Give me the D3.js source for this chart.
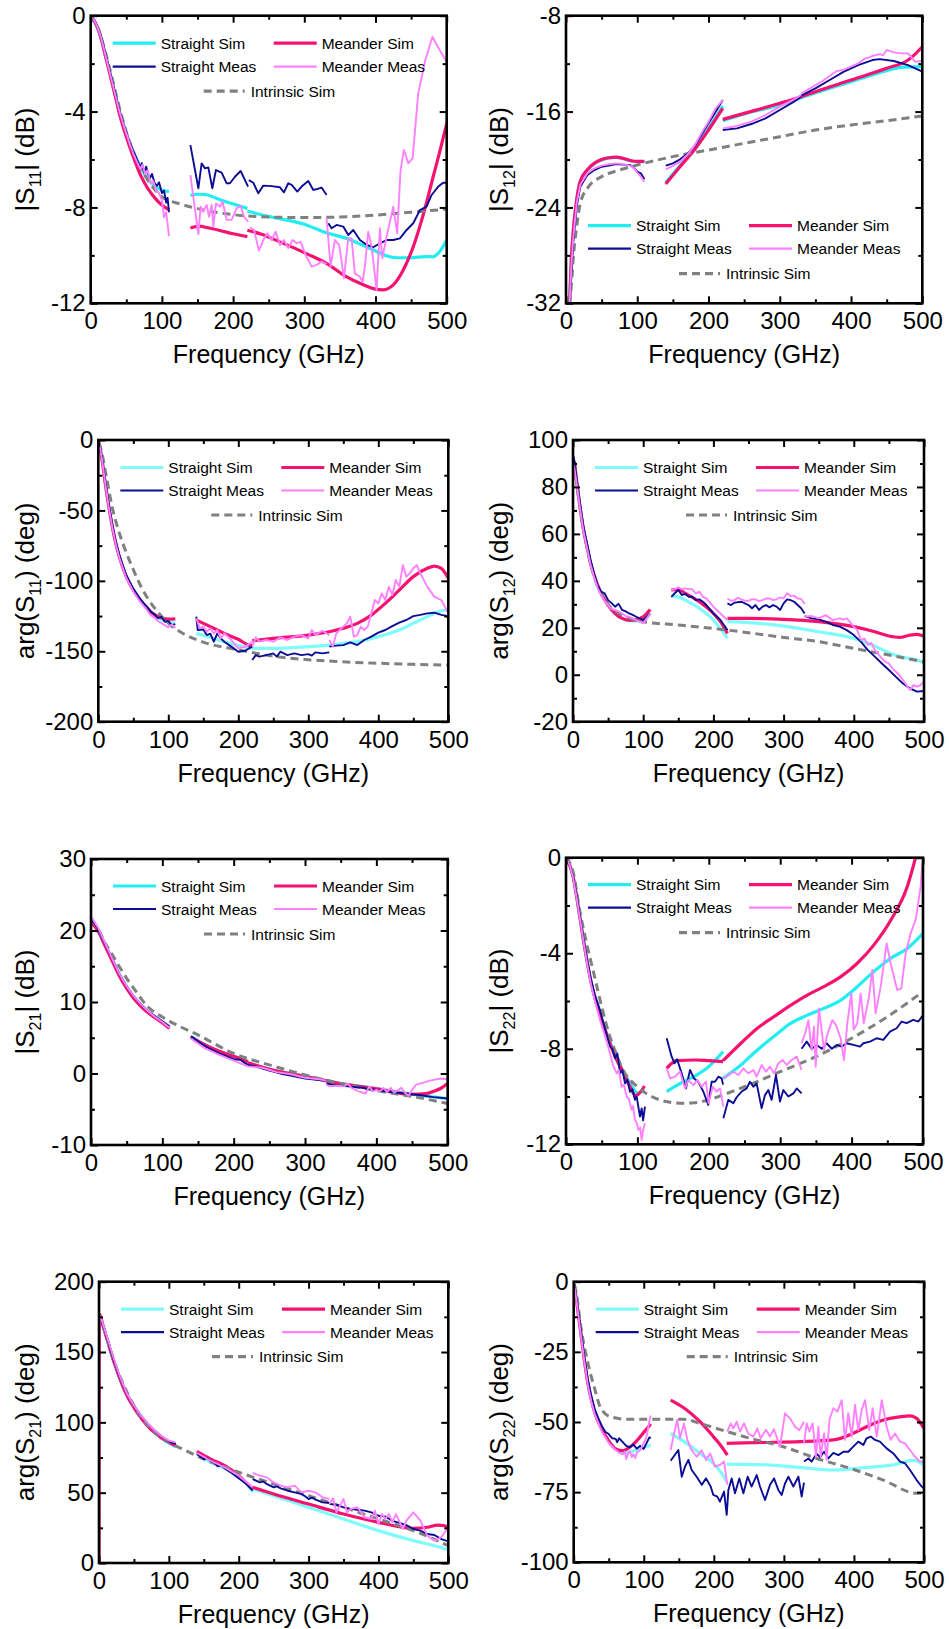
<!DOCTYPE html>
<html>
<head>
<meta charset="utf-8">
<script src="https://cdn.jsdelivr.net/npm/d3@7"></script>
<style>
  html, body { margin: 0; padding: 0; background: #fff; }
  svg { display: block; font-family: "Liberation Sans", Arial, Helvetica, sans-serif; }
</style>
</head>
<body>
<svg id="chart" width="949" height="1629"></svg>
<script>
// ---------- shared axis values ----------
const freqTicks = [0, 100, 200, 300, 400, 500];
const s11MagTicks = [0, -4, -8, -12];
const s12MagTicks = [-8, -16, -24, -32];
const s11PhaseTicks = [0, -50, -100, -150, -200];
const s12PhaseTicks = [100, 80, 60, 40, 20, 0, -20];
const s21MagTicks = [30, 20, 10, 0, -10];
const s22MagTicks = [0, -4, -8, -12];
const s21PhaseTicks = [200, 150, 100, 50, 0];
const s22PhaseTicks = [0, -25, -50, -75, -100];

const legendLabels = ["Straight Sim", "Meander Sim", "Straight Meas", "Meander Meas", "Intrinsic Sim"];

// ---------- |S11| (dB) ----------  [frequency GHz, value], null = band gap
const s11MagStraightSim = [[0,0],[5,-0.22],[10,-0.53],[15,-0.98],[20,-1.57],[25,-2.15],[30,-2.75],[35,-3.38],[40,-3.98],[45,-4.5],[50,-4.95],[60,-5.7],[70,-6.3],[80,-6.8],[90,-7.1],[100,-7.28],[110,-7.33], null,
  [140,-7.5],[150,-7.45],[160,-7.46],[180,-7.66],[200,-7.86],[220,-8.04], null,
  [220,-8.15],[250,-8.38],[300,-8.7],[330,-9.05],[360,-9.3],[380,-9.55],[400,-9.82],[415,-10.02],[430,-10.1],[450,-10.1],[470,-10.05],[480,-10.06],[490,-9.85],[500,-9.36]];
const s11MagMeanderSim = [[0,0],[5,-0.22],[10,-0.53],[15,-1.0],[20,-1.6],[25,-2.2],[30,-2.8],[35,-3.42],[40,-4.05],[45,-4.58],[50,-5.05],[60,-5.9],[70,-6.65],[80,-7.2],[90,-7.6],[100,-7.9],[110,-8.1], null,
  [140,-8.86],[152,-8.78],[165,-8.85],[180,-8.95],[200,-9.1],[220,-9.22], null,
  [220,-8.95],[240,-9.12],[265,-9.43],[290,-9.75],[312,-10.05],[331,-10.33],[359,-10.89],[383,-11.23],[400,-11.41],[410,-11.44],[425,-11.23],[439,-10.61],[453,-9.64],[467,-8.31],[481,-6.72],[490,-5.7],[500,-4.5]];
const s11MagStraightMeas = [[0,0],[5,-0.2],[10,-0.5],[15,-0.9],[20,-1.5],[25,-2.1],[30,-2.7],[35,-3.3],[40,-3.9],[45,-4.4],[50,-4.85],[55,-5.3],[60,-5.65],[65,-6.0],[70,-6.35],[72,-6.15],[75,-6.55],[78,-6.3],[80,-6.55],[83,-6.8],[86,-6.6],[90,-7.0],[93,-7.1],[96,-6.95],[100,-7.4],[103,-7.3],[106,-7.8],[108,-7.6],[110,-8.2], null,
  [140,-5.4],[151.2,-7.2],[155.8,-6.16],[160.5,-6.37],[165.2,-6.33],[170.8,-7.2],[175.9,-6.44],[183.9,-6.55],[190.9,-6.99],[195.6,-6.99],[202.6,-6.72],[210.6,-6.48],[216.7,-6.86],[221,-7.13], null,
  [222,-6.86],[228.4,-6.97],[235.4,-7.41],[242.4,-7.09],[254.1,-7.11],[265.8,-7.16],[271.4,-7.37],[277.5,-6.99],[282.2,-7.06],[290.2,-7.34],[296.2,-7.13],[305.6,-6.9],[312.6,-7.27],[318.7,-7.23],[324.3,-7.17],[331.3,-7.48], null,
  [333.7,-8.66],[338.3,-8.87],[345.4,-8.73],[354.7,-8.8],[361.7,-9.15],[368.8,-8.94],[378.1,-9.36],[387.5,-9.56],[396.8,-9.66],[406.2,-9.5],[415.6,-9.36],[424.9,-9.36],[434.3,-9.29],[443.7,-8.94],[453,-8.66],[462.4,-8.11],[471.7,-7.97],[478.8,-7.48],[488.1,-7.13],[495.1,-6.97],[500,-6.97]];
const s11MagMeanderMeas = [[0,0],[5,-0.2],[10,-0.5],[15,-0.95],[20,-1.55],[25,-2.15],[30,-2.75],[35,-3.35],[40,-3.95],[45,-4.45],[50,-4.9],[55,-5.35],[60,-5.75],[65,-6.1],[70,-6.4],[73,-6.2],[76,-6.6],[80,-6.45],[84,-7.0],[88,-6.9],[92,-7.3],[96,-7.4],[100,-7.7],[103,-8.4],[106,-8.2],[110,-9.2], null,
  [140,-6.65],[151.2,-9.11],[154.4,-7.97],[157.7,-8.18],[162.9,-7.9],[166.1,-8.39],[169.9,-7.9],[172.2,-8.8],[175.9,-7.83],[181.5,-7.97],[185.3,-7.76],[190.9,-8.52],[197.9,-8.52],[205,-8.04],[210.6,-7.94],[215.3,-8.39],[221.3,-8.59], null,
  [223.7,-8.83],[229.3,-8.94],[236.3,-9.8],[242.4,-9.36],[248,-9.08],[254.1,-9.36],[259.7,-9.01],[265.8,-9.57],[271.4,-9.36],[277.5,-9.7],[283.6,-9.36],[289.2,-9.5],[294.8,-9.43],[301.8,-9.98],[310.3,-10.47],[317.3,-10.4],[324.3,-10.26],[331.3,-10.36], null,
  [331.3,-8.45],[336.9,-10.47],[343,-9.36],[349.1,-9.57],[355.7,-10.96],[361.7,-9.29],[366.4,-9.29],[371,-10.75],[378.1,-10.89],[381.8,-11.1],[385.1,-10.47],[389.8,-9.01],[394.5,-9.64],[401.5,-11.44],[406.2,-8.87],[409.5,-10.12],[415.6,-9.22],[424.9,-7.97],[430.5,-9.08],[435.2,-6.44],[439.9,-5.6],[446,-6.16],[452.1,-5.95],[460,-3.24],[470,-1.85],[480,-0.88],[490,-1.43],[500,-1.92]];
const s11MagIntrinsic = [[0,0],[10,-0.5],[20,-1.45],[30,-2.6],[40,-3.8],[50,-4.85],[60,-5.7],[70,-6.35],[80,-6.85],[90,-7.25],[100,-7.55],[125,-7.85],[150,-8.05],[200,-8.3],[250,-8.4],[300,-8.42],[350,-8.4],[400,-8.32],[450,-8.2],[500,-8.07]];

// ---------- |S12| (dB) ----------
const s12MagStraightSim = [[5,-32],[7.5,-28.5],[10,-26.16],[15,-23.38],[20,-21.85],[30,-20.88],[40,-20.32],[50,-20.04],[60,-19.87],[70,-19.82],[80,-19.93],[90,-20.1],[100,-20.18],[110,-20.18], null,
  [140,-21.93],[160,-20.51],[180,-19.07],[200,-17.4],[220,-15.54], null,
  [220,-16.76],[250,-16.2],[300,-15.45],[330,-14.84],[400,-13.51],[450,-12.59],[470,-12.31],[500,-12.25]];
const s12MagMeanderSim = [[5,-32],[7.5,-28.3],[10,-26.1],[15,-23.35],[20,-21.82],[30,-20.85],[40,-20.3],[50,-20.0],[60,-19.85],[70,-19.8],[80,-19.9],[90,-20.08],[100,-20.16],[110,-20.16], null,
  [140,-22.04],[160,-20.6],[180,-19.21],[200,-17.54],[220,-15.73], null,
  [220,-16.65],[250,-16.15],[300,-15.31],[330,-14.76],[350,-14.34],[400,-13.37],[450,-12.39],[480,-11.7],[490,-11.2],[500,-10.59]];
const s12MagStraightMeas = [[5,-32],[7.5,-29.5],[10,-27.0],[15,-23.94],[20,-22.27],[30,-21.29],[40,-20.88],[50,-20.6],[60,-20.51],[70,-20.38],[80,-20.43],[90,-20.46],[95,-20.68],[100,-21.01],[105,-21.15],[108,-21.43],[110,-21.65], null,
  [140,-20.51],[150,-20.32],[160,-19.99],[170,-19.54],[180,-18.93],[190,-17.96],[200,-16.98],[210,-16.01],[220,-15.04], null,
  [220,-17.54],[240,-17.4],[260,-17.04],[280,-16.57],[300,-15.87],[320,-15.17],[330,-14.76], null,
  [330,-14.67],[350,-14.06],[370,-13.37],[390,-12.67],[410,-12.12],[430,-11.7],[440,-11.62],[460,-11.78],[480,-12.12],[500,-12.67]];
const s12MagMeanderMeas = [[5,-32],[7.5,-29],[10,-26.72],[15,-23.66],[20,-22.13],[30,-21.15],[40,-20.74],[50,-20.51],[60,-20.4],[70,-20.32],[80,-20.38],[90,-20.51],[95,-20.7],[100,-21.1],[105,-21.43],[110,-21.85], null,
  [140,-20.82],[150,-20.54],[160,-20.18],[170,-19.62],[180,-18.87],[190,-17.82],[200,-16.84],[210,-15.73],[220,-15.04], null,
  [220,-17.4],[240,-17.2],[260,-16.84],[280,-16.29],[300,-15.59],[320,-14.98],[330,-14.62], null,
  [330,-14.5],[340,-14.15],[360,-13.45],[380,-12.62],[390,-12.5],[400,-12.25],[410,-11.98],[420,-11.56],[425,-11.5],[430,-11.36],[440,-11.2],[445,-11.3],[450,-10.86],[460,-11.06],[470,-11.14],[480,-11.14],[490,-11.84],[500,-11.78]];
const s12MagIntrinsic = [[5,-32],[7.5,-30.5],[10,-28.38],[15,-25.6],[20,-23.66],[30,-22.41],[50,-21.43],[75,-20.88],[100,-20.46],[150,-19.76],[200,-19.21],[250,-18.65],[300,-18.1],[350,-17.54],[400,-17.12],[450,-16.76],[500,-16.37]];

// ---------- arg(S11) (deg) ----------
const s11PhaseStraightSim = [[1,-2],[5,-13],[10,-30.8],[15,-47.3],[20,-61.5],[25,-73.4],[30,-82.8],[40,-97],[50,-106.5],[60,-113.6],[70,-119.5],[80,-124.3],[90,-127.5],[100,-129.3],[110,-130], null,
  [140,-137.3],[160,-140.1],[180,-143.2],[200,-146],[220,-147.9], null,
  [220,-147.9],[250,-148],[300,-146.7],[330,-145.6],[350,-144.4],[370,-143.2],[400,-139.6],[430,-134.9],[450,-130.2],[470,-125.4],[490,-121.2],[500,-120.7]];
const s11PhaseMeanderSim = [[1,-2],[5,-13],[10,-30.8],[15,-47.3],[20,-61.5],[25,-73.4],[30,-82.8],[40,-97],[50,-106.5],[60,-113.6],[70,-119.5],[80,-124],[90,-126.2],[100,-127.2],[110,-127], null,
  [140,-127.8],[160,-132.5],[180,-137.3],[200,-141.5],[215,-145.6],[220,-146], null,
  [220,-142.5],[250,-140.8],[300,-138.5],[330,-136.1],[350,-133.7],[370,-130.2],[390,-124.3],[410,-116],[430,-106.5],[450,-97],[470,-91.1],[480,-89.5],[490,-91.1],[500,-98.2]];
const s11PhaseStraightMeas = [[1,-2],[5,-12],[10,-29.5],[15,-46],[20,-60],[25,-72],[30,-81.5],[40,-96],[50,-105.5],[60,-113],[65,-116],[70,-118.5],[75,-122],[80,-123.5],[85,-126.5],[90,-125.5],[95,-129],[100,-128.5],[105,-131.5],[110,-130.7], null,
  [140,-125.4],[142,-134.9],[150,-134.5],[155,-138.5],[160,-137.5],[165,-143.2],[170,-137.3],[175,-140.8],[180,-143.2],[190,-146.7],[200,-150.3],[210,-149.6],[215,-148],[220,-146.7], null,
  [220,-156.2],[225,-152.7],[230,-153.8],[240,-152.7],[250,-151.5],[255,-153.8],[260,-150.3],[270,-152.7],[280,-151.5],[290,-152.7],[300,-152],[305,-153.1],[310,-150.8],[320,-151.5],[330,-150.8], null,
  [330,-146.7],[340,-146],[350,-145.6],[360,-143.7],[370,-145.6],[380,-142],[390,-139.6],[400,-136.8],[410,-134.9],[420,-132.1],[430,-129.7],[440,-127.8],[450,-125],[460,-124.2],[470,-123.1],[480,-122.6],[490,-124.2],[500,-125]];
const s11PhaseMeanderMeas = [[1,-2],[5,-13],[10,-31],[15,-48],[20,-62],[25,-74],[30,-83.5],[40,-98],[50,-107.5],[60,-115],[65,-118],[70,-121],[75,-124.5],[80,-126],[85,-128.5],[90,-130],[95,-131.5],[100,-133],[105,-131],[110,-133.5], null,
  [140,-126.6],[145,-133.7],[150,-132.5],[155,-136.1],[160,-133.7],[165,-137.3],[170,-134.9],[175,-140.8],[180,-137.3],[190,-142],[200,-147.9],[210,-146.7],[220,-143.2], null,
  [220,-146.7],[225,-140.1],[230,-143.2],[240,-142],[250,-143.2],[260,-140.1],[270,-142],[280,-139.6],[290,-138.5],[300,-140.8],[305,-134.9],[310,-138.5],[320,-135.4],[330,-138.5], null,
  [330,-142],[335,-146.7],[340,-137.3],[350,-132.5],[355,-130.2],[360,-125.4],[365,-139.6],[370,-138.5],[375,-132.5],[380,-134.9],[385,-132.5],[390,-123],[395,-113.6],[400,-116],[405,-108.9],[410,-113.6],[415,-104.1],[420,-110],[425,-99.4],[430,-104.1],[435,-88.8],[440,-97],[445,-94.7],[450,-91.1],[455,-88.8],[460,-94.7],[470,-104.1],[480,-111.2],[490,-113.6],[500,-123]];
const s11PhaseIntrinsic = [[1,-2],[5,-9],[10,-22],[20,-48],[30,-66],[40,-80],[50,-92],[60,-103],[70,-112],[80,-119],[90,-125],[100,-130],[120,-137],[150,-143.5],[200,-149],[250,-153.5],[300,-156],[350,-157.5],[400,-158.5],[450,-159.3],[500,-159.8]];

// ---------- arg(S12) (deg) ----------
const s12PhaseStraightSim = [[2,91],[5,83],[10,71.6],[15,61.6],[20,54.5],[25,47.4],[30,42.5],[40,34.7],[50,29.7],[60,26.1],[70,24],[80,23],[90,22.8],[100,23],[110,26.1], null,
  [140,33.5],[150,33.2],[160,31.8],[180,28.3],[200,23.3],[210,19.7],[220,15.5], null,
  [220,22.6],[250,22.2],[300,20.7],[350,18.3],[400,15.5],[430,12.2],[450,9.4],[470,7.4],[490,6.3],[500,5.1]];
const s12PhaseMeanderSim = [[2,91],[5,83],[10,71.6],[15,61.6],[20,54.5],[25,47.4],[30,42.5],[40,34.7],[50,29.7],[60,26.1],[70,24],[80,23.2],[90,23.4],[100,24.7],[110,27.8], null,
  [140,36.1],[150,36.4],[160,34.7],[180,31.1],[200,26.1],[210,22.6],[220,17.6], null,
  [220,24],[250,24],[300,23.6],[350,22.6],[400,20.5],[430,18.3],[450,16.5],[465,15.9],[480,16.9],[490,17.2],[500,16.5]];
const s12PhaseStraightMeas = [[1,93],[5,84],[10,73],[15,63],[20,56],[25,49],[30,43.2],[35,38],[40,35.4],[45,34.7],[50,31.8],[55,30.5],[60,29],[65,30.2],[70,27.6],[75,27],[80,26.1],[85,25.5],[90,24.7],[95,24],[100,23.3],[105,24.7],[110,26.1], null,
  [140,33.2],[145,34.7],[150,36.1],[155,34],[160,34.4],[165,33.2],[170,33.2],[175,31.8],[180,32.1],[185,31.1],[190,29.7],[200,26.1],[210,23.3],[220,19], null,
  [220,30.4],[225,29.7],[230,30.7],[240,31.1],[250,29.7],[255,28.3],[260,29.7],[265,27.6],[270,29],[275,29.7],[280,28.7],[285,29.7],[290,29],[295,27.6],[300,30.4],[305,32.1],[310,31.8],[315,31.1],[320,29.7],[325,28.3],[330,26.1], null,
  [330,25],[340,24],[350,23.6],[360,22.6],[370,21.2],[380,20.5],[390,19],[400,16.9],[410,14.1],[420,10.5],[430,7.7],[440,4.8],[450,2],[460,-0.9],[470,-3.7],[480,-5.8],[490,-7.2],[500,-6.9]];
const s12PhaseMeanderMeas = [[1,90],[5,82],[10,71],[15,61],[20,54],[25,47],[30,41.7],[35,37],[40,33.9],[45,31.5],[50,29.7],[55,28],[60,27.6],[65,27],[70,26.1],[75,25],[80,24.7],[85,24],[90,23.3],[95,22.6],[100,21.9],[105,24],[110,26.1], null,
  [140,36.1],[145,36.5],[150,37.2],[155,36.5],[160,36.8],[165,36.5],[170,36.4],[175,34.7],[180,35.4],[185,33.2],[190,32.5],[200,29],[210,26.1],[220,23.3], null,
  [220,32.5],[225,31.5],[230,31.8],[235,32.8],[240,32.1],[245,31.5],[250,31.5],[255,32.2],[260,32.1],[265,31.4],[270,31.8],[275,32.5],[280,32.5],[285,31.8],[290,32.1],[295,33],[300,32.5],[305,34.7],[310,33.6],[315,33.6],[320,32.5],[325,32.3],[330,30.1], null,
  [330,24.7],[340,25],[350,24],[360,25.4],[370,23.3],[380,24],[385,23.5],[390,24],[400,20.5],[405,19],[410,14.8],[415,15.5],[420,12.8],[425,13.5],[430,10.5],[440,7],[445,5.5],[450,4.8],[455,2.7],[460,1.3],[465,-0.1],[475,-4.4],[480,-6.5],[485,-4.4],[490,-5.1],[495,-4.4],[500,-3]];
const s12PhaseIntrinsic = [[2,90],[5,82],[10,71],[20,54],[30,42],[50,30],[70,25.5],[100,22.6],[150,21.2],[200,19.7],[250,17.9],[300,15.9],[350,14.1],[400,11.2],[450,8.4],[500,5.5]];

// ---------- |S21| (dB) ----------
const s21MagStraightSim = [[0,21.2],[5,20.8],[10,20.1],[20,18],[30,15.9],[40,13.8],[50,12.1],[60,10.7],[70,9.6],[80,8.6],[90,7.9],[100,7.2],[110,6.4], null,
  [140,5.2],[160,4.0],[180,3.1],[200,2.4],[220,1.7], null,
  [220,1.5],[250,0.6],[300,-0.4],[350,-1.4],[400,-2.1],[450,-2.9],[500,-3.5]];
const s21MagMeanderSim = [[0,21],[5,20.6],[10,19.9],[20,17.8],[30,15.7],[40,13.6],[50,11.9],[60,10.5],[70,9.4],[80,8.5],[90,7.8],[100,7.1],[110,6.3], null,
  [140,5.1],[160,4.0],[180,3.1],[200,2.4],[220,1.6], null,
  [220,1.5],[250,0.6],[300,-0.4],[350,-1.4],[400,-2.15],[450,-2.9],[470,-2.8],[480,-2.5],[490,-2.1],[500,-1.4]];
const s21MagStraightMeas = [[0,21.6],[5,21],[10,20.2],[20,18.1],[30,16],[40,13.9],[50,12.2],[60,10.8],[70,9.7],[80,8.7],[90,8],[100,7.3],[110,6.6], null,
  [140,5.2],[160,3.8],[180,2.8],[200,2.0],[210,1.9],[215,1.5],[220,1.2], null,
  [220,1.2],[230,1.0],[250,0.4],[270,-0.1],[280,-0.3],[300,-0.7],[320,-0.9],[330,-1.0], null,
  [330,-1.4],[340,-1.6],[360,-1.8],[380,-2.0],[400,-2.3],[420,-2.6],[440,-2.8],[460,-3.0],[480,-3.3],[500,-3.5]];
const s21MagMeanderMeas = [[0,21.9],[5,21.2],[10,20.4],[20,18.2],[30,16],[40,13.9],[50,12.2],[60,10.8],[70,9.7],[80,8.7],[90,7.9],[100,7.2],[110,6.4], null,
  [140,4.9],[160,3.5],[180,2.6],[200,1.8],[220,1.0], null,
  [220,1.0],[240,0.8],[260,0.2],[280,-0.1],[300,-0.6],[320,-0.8],[330,-1.0], null,
  [330,-1.6],[335,-1.8],[345,-1.7],[355,-1.8],[360,-1.4],[365,-2.0],[375,-2.5],[385,-2.8],[390,-1.8],[395,-2.5],[400,-2.3],[405,-2.5],[410,-2.0],[415,-2.6],[420,-2.0],[425,-2.7],[435,-2.0],[440,-2.7],[445,-3.1],[450,-2.3],[455,-1.6],[465,-1.3],[475,-1.0],[490,-0.7],[500,-0.8]];
const s21MagIntrinsic = [[0,21.5],[10,20.2],[20,18.2],[30,16.6],[40,14.9],[50,13.3],[60,11.9],[80,9.3],[100,7.9],[120,6.8],[150,5.4],[200,2.8],[250,1.2],[300,-0.2],[350,-1.4],[400,-2.4],[450,-3.2],[500,-4.2]];

// ---------- |S22| (dB) ----------
const s22MagStraightSim = [[0,0],[5,-0.3],[10,-0.8],[15,-1.65],[20,-2.6],[25,-3.55],[30,-4.42],[35,-5.2],[40,-5.82],[50,-6.8],[60,-7.63],[70,-8.4],[80,-8.96],[90,-9.45],[100,-9.85],[110,-9.73], null,
  [141,-9.79],[160,-9.45],[180,-9.15],[200,-8.75],[210,-8.45],[220,-8.12], null,
  [220,-9.24],[245,-8.68],[268,-8.05],[291,-7.49],[315,-6.93],[338,-6.59],[361,-6.31],[385,-5.96],[408,-5.4],[431,-4.77],[455,-4.21],[478,-3.8],[500,-3.17]];
const s22MagMeanderSim = [[0,0],[5,-0.3],[10,-0.8],[15,-1.65],[20,-2.6],[25,-3.55],[30,-4.42],[35,-5.2],[40,-5.82],[50,-6.8],[60,-7.63],[70,-8.4],[80,-8.96],[90,-9.6],[97,-9.95],[100,-9.93],[110,-9.56], null,
  [141,-8.82],[155,-8.5],[182,-8.47],[200,-8.5],[220,-8.54], null,
  [220,-8.5],[245,-7.77],[268,-7.14],[291,-6.66],[315,-6.17],[338,-5.75],[361,-5.4],[385,-4.98],[408,-4.42],[431,-3.66],[455,-2.61],[478,-1.21],[490,0.05]];
const s22MagStraightMeas = [[0,0],[5,-0.3],[10,-0.8],[15,-1.6],[20,-2.55],[25,-3.5],[30,-4.35],[35,-5.1],[40,-5.7],[47.6,-6.38],[55,-7.2],[61.6,-7.91],[65,-8.0],[68.6,-8.4],[72,-8.2],[75.7,-9.03],[79,-8.9],[82.7,-9.45],[86,-9.3],[89.6,-9.8],[93,-9.7],[96.6,-10.14],[99,-10.0],[101.3,-10.42],[103.6,-10.84],[106,-10.5],[108,-11.0],[110.6,-10.42], null,
  [141,-7.56],[148,-8.33],[152,-8.61],[155.6,-8.44],[162,-9.03],[168,-9.66],[173.7,-8.89],[179.3,-9.24],[185.3,-9.38],[192.3,-9.79],[199.3,-10.35],[204,-9.38],[208.7,-9.38],[213.4,-9.17],[218,-9.24],[220,-9.5], null,
  [220.4,-10.91],[227.3,-10.14],[234.4,-10.28],[239,-10.03],[246,-9.79],[253,-9.66],[257.7,-9.38],[262.4,-9.59],[267,-9.45],[274,-10.49],[278.7,-9.94],[283.4,-9.73],[288,-10.14],[294.1,-9.1],[299.7,-10.21],[304.4,-9.73],[311.4,-10.0],[318.4,-9.87],[323.1,-9.66],[330,-9.87], null,
  [330,-8.0],[337.1,-7.7],[344,-8.0],[351.2,-7.84],[358.2,-8.0],[365.2,-7.77],[372.3,-8.0],[379.1,-7.84],[386.1,-7.91],[393.2,-7.77],[402.5,-7.84],[411.8,-7.91],[416.5,-7.77],[425.8,-7.7],[435.1,-7.56],[444.4,-7.63],[453.8,-7.28],[463.1,-7.14],[470.1,-6.86],[477,-6.93],[486.4,-6.79],[493.5,-6.86],[500,-6.59]];
const s22MagMeanderMeas = [[0,0],[5,-0.3],[10,-0.85],[15,-1.7],[20,-2.65],[25,-3.6],[30,-4.5],[35,-5.3],[40,-5.95],[47.6,-6.8],[55,-7.5],[61.6,-8.19],[66,-8.7],[71,-9.03],[74,-8.9],[78,-9.59],[81,-9.5],[85,-10.0],[88,-10.1],[92,-10.56],[94,-10.4],[96.6,-10.98],[99,-11.1],[101.3,-11.4],[104,-11.3],[105.9,-11.82],[108,-11.4],[110.6,-11.12], null,
  [141,-8.82],[145.7,-9.24],[152.6,-9.17],[159.7,-8.96],[166.7,-9.66],[171.4,-9.31],[178.3,-9.52],[183.9,-9.31],[190,-9.59],[196,-9.38],[199.8,-10.28],[205.4,-9.59],[211,-9.79],[215.7,-9.66],[220.4,-10.42], null,
  [220.4,-9.24],[227.3,-9.1],[234.4,-8.96],[241.4,-9.1],[248.4,-8.82],[255.4,-9.03],[262.4,-8.89],[267,-9.17],[274,-8.68],[280.1,-8.96],[285.7,-8.75],[291.3,-9.03],[297.4,-8.61],[303.5,-8.47],[309,-8.68],[316,-8.47],[323.1,-8.33],[330,-8.89], null,
  [330,-7.77],[335,-7.35],[339.5,-6.8],[344,-8.05],[347.3,-7.07],[349.7,-8.75],[354.3,-6.31],[361.3,-8.05],[366,-7.4],[373,-6.8],[378,-7.0],[384.7,-7.56],[389.4,-8.47],[394,-6.93],[399.6,-5.68],[403,-7.2],[408,-6.93],[412.7,-5.68],[417,-6.93],[424.4,-5.82],[429,-4.7],[433.7,-6.52],[440.7,-5.4],[449.1,-3.59],[454.7,-4.42],[460.3,-5.12],[464,-5.54],[469.7,-5.47],[475.7,-4.0],[482.7,-3.17],[489.7,-2.61],[496.7,-1.21],[499,-0.24]];
const s22MagIntrinsic = [[0,0],[10,-0.6],[20,-2.33],[30,-3.73],[40,-4.98],[50,-6.24],[60,-7.35],[70,-8.19],[80,-8.89],[100,-9.59],[120,-10.0],[140,-10.21],[160,-10.28],[180,-10.26],[200,-10.14],[220,-9.93],[250,-9.59],[300,-8.96],[350,-8.33],[400,-7.56],[450,-6.66],[500,-5.61]];

// ---------- arg(S21) (deg) ----------
const s21PhaseStraightSim = [[0,177],[5,169.9],[10,161.6],[20,145],[30,130.8],[40,119],[50,110.7],[60,103.6],[70,97.6],[80,92.5],[90,88.5],[100,85],[110,82.5], null,
  [140,78.2],[160,71.6],[180,67.3],[200,60.9],[210,57],[220,50.7], null,
  [220,52.6],[250,47.9],[300,39.6],[350,31.3],[400,23],[450,15.9],[480,12.3],[500,9.5]];
const s21PhaseMeanderSim = [[0,0],[0.8,177],[5,170],[10,161.6],[20,145],[30,130.8],[40,119],[50,110.5],[60,103.2],[70,97.2],[80,92.5],[90,88.8],[100,85.8],[110,83.2], null,
  [140,79.4],[160,73.9],[180,69.2],[200,62.1],[215,55],[220,52.6], null,
  [220,53.8],[250,49.1],[300,41.9],[350,34.8],[400,28.9],[430,25.8],[450,24.6],[470,25.4],[485,27],[495,26.5],[500,24.6]];
const s21PhaseStraightMeas = [[0,176],[5,170.5],[10,162.5],[20,146],[30,132],[40,120.5],[50,112],[60,105],[70,99],[80,94],[90,90],[100,86.5],[110,84.5], null,
  [140,77.5],[150,73.9],[155,74.5],[160,72.5],[165,71.5],[170,68.7],[175,69.5],[180,67.3],[190,64],[200,60.2],[210,56.5],[220,51.4], null,
  [220,59.7],[230,57.3],[235,58],[240,56.2],[250,53.8],[255,54.5],[260,53.1],[270,51.4],[280,50.2],[290,49],[295,47.5],[300,45.5],[305,46.5],[310,45],[320,43.1],[330,42.7], null,
  [330,41.9],[340,41.5],[350,39.6],[360,38.5],[370,37.9],[380,37.2],[390,36],[400,33.6],[410,33],[420,30],[430,28.5],[440,26.9],[450,24.2],[460,23],[470,20.6],[480,19.9],[490,17],[500,15.4]];
const s21PhaseMeanderMeas = [[0,0],[0.8,176],[5,171],[10,163],[20,147],[30,132.5],[40,120.5],[50,112],[60,105],[70,99],[80,94],[90,90],[100,87],[110,85.8], null,
  [140,78.2],[160,72.7],[180,68],[200,62.1],[210,58],[220,53.8], null,
  [220,64],[230,62.1],[240,60.9],[250,57.3],[260,55],[270,53.8],[280,55],[290,50.2],[300,51.4],[310,50.2],[320,46.7],[330,45.5], null,
  [330,42],[335,46],[340,36],[345,40.8],[350,45.5],[355,36],[360,38.4],[370,39.6],[380,32.5],[390,31.3],[395,37.2],[400,27.7],[405,34.8],[410,31.3],[415,34.8],[420,28.9],[425,34.8],[435,24.2],[440,30.1],[450,36],[460,30.1],[470,19.4],[480,15.9],[490,18.3],[500,25.4]];
const s21PhaseIntrinsic = [[0,177],[10,162],[20,146],[50,111.8],[100,85.8],[120,81],[150,73.9],[200,64.5],[250,56.2],[300,47.9],[350,39.6],[400,31.3],[450,23],[500,12.3]];

// ---------- arg(S22) (deg) ----------
const s22PhaseStraightSim = [[1,-1.4],[5,-8.6],[10,-18],[15,-27.6],[20,-35.9],[25,-41.8],[30,-46.6],[40,-52.5],[50,-56.7],[60,-59.6],[70,-60.9],[80,-60.6],[90,-60],[100,-58.8],[110,-58.4], null,
  [138.4,-54.1],[161.3,-57.6],[180.3,-61.2],[199.3,-64.7],[211.2,-68.3],[218.4,-71.3], null,
  [218.4,-65.0],[275.4,-65.3],[323,-66.2],[370.6,-67.1],[418,-66.2],[456.2,-65.3],[485,-63.7],[500,-65.3]];
const s22PhaseMeanderSim = [[1,-1.4],[5,-8.6],[10,-18],[15,-27.6],[20,-35.9],[25,-41.8],[30,-46.6],[40,-52.5],[50,-56.7],[60,-59.6],[70,-60.2],[80,-59],[90,-56.7],[100,-53.7],[110,-50.7], null,
  [138.4,-42.2],[161.3,-45.7],[180.3,-49.9],[199.3,-55.2],[211.2,-58.8],[219.3,-61.8], null,
  [218.4,-57.6],[270,-57.3],[323,-57],[370.6,-56.4],[399,-54],[418,-51.7],[442,-49.3],[465,-48.2],[480,-47.8],[489.5,-48.7],[500,-52.3]];
const s22PhaseStraightMeas = [[1,-1],[5,-8],[10,-17],[15,-26.5],[20,-34.5],[25,-40.5],[30,-45.4],[35,-48.5],[40,-51.3],[45,-53.5],[50,-54.3],[55,-55.8],[60,-56],[62,-57.2],[65,-55.8],[70,-57.2],[75,-58.5],[80,-59],[85,-58],[90,-59.5],[95,-58.5],[100,-59.6],[105,-57],[108,-55.5],[110,-55.8], null,
  [138.4,-63.8],[149.4,-60.0],[154.2,-69.5],[158.9,-65.9],[163.7,-63.5],[168.4,-67.1],[175.5,-69.5],[182.7,-72.4],[188.9,-70.1],[195.5,-73.0],[199.3,-76.0],[205,-76.6],[208.7,-78.4],[214.6,-74.8],[218.4,-83.1],[220.8,-74.2], null,
  [220.8,-74.2],[225.5,-70.1],[230.2,-75.4],[236.4,-70.1],[242.2,-75.4],[248.3,-69.5],[253.9,-73.0],[261.2,-68.9],[265.9,-73.0],[273.1,-77.8],[280.2,-72.4],[285.9,-70.1],[292.1,-74.2],[296.9,-76.0],[301.6,-71.9],[306.4,-69.5],[313.5,-73.0],[320.7,-69.5],[325.4,-76.6],[328.7,-71.6], null,
  [328.7,-64.1],[334.9,-63.0],[339.6,-64.1],[346.8,-61.3],[351.5,-62.5],[357.3,-60.6],[363.4,-63.0],[370.6,-61.0],[377.8,-61.8],[384.9,-60.6],[392,-60.6],[399,-58.8],[406.3,-57.0],[413.4,-58.2],[418.1,-55.8],[423.9,-55.2],[430.1,-56.4],[437.1,-57.0],[446.7,-59.4],[456.2,-61.2],[465.8,-64.1],[472.9,-64.7],[480,-67.1],[489.5,-70.7],[496.6,-73.0],[500,-73.6]];
const s22PhaseMeanderMeas = [[1,-1.4],[5,-8.8],[10,-18.5],[15,-28],[20,-36.5],[25,-42.5],[30,-47.2],[40,-53.3],[50,-57.5],[60,-60],[65,-61],[70,-61.5],[73,-60.5],[75,-63.2],[78,-61],[80,-60.5],[83,-62.5],[85,-61.5],[88,-62.8],[90,-61],[95,-60],[100,-57.5],[103,-56],[105,-54],[108,-49.5],[110,-47.7], null,
  [138.4,-60.0],[143.2,-54.1],[147.9,-49.3],[151.7,-55.8],[157.4,-50.5],[162.2,-56.4],[168.4,-60.0],[175.5,-62.4],[182.7,-60.1],[188.9,-63.6],[194.6,-61.2],[201.7,-65.9],[208.8,-65.3],[214.6,-64.1],[219.3,-72.4], null,
  [219.3,-53.4],[224.1,-50.5],[227.9,-52.3],[232.6,-49.9],[237.4,-53.4],[243.1,-50.5],[249.2,-54.1],[256.4,-55.2],[262.1,-52.3],[266.8,-55.8],[274.4,-52.8],[280.1,-55.2],[285.8,-52.6],[294.5,-58.8],[301.6,-46.9],[308.7,-48.7],[315.9,-51.7],[322.1,-52.9],[328.7,-49.9], null,
  [328.7,-57.6],[332.5,-50.5],[336.3,-53.4],[341.1,-50.5],[345.9,-62.4],[349.2,-51.7],[352.5,-62.4],[357.3,-54.1],[361.1,-63.5],[364.9,-49.3],[370.6,-45.1],[376.3,-46.3],[382.5,-42.2],[387.3,-56.4],[392,-46.9],[396.8,-55.2],[401.5,-43.9],[406.3,-52.9],[411.1,-45.7],[415.8,-42.2],[422,-52.9],[426.7,-45.1],[432.5,-55.2],[439.7,-42.2],[446.7,-51.7],[452.4,-56.4],[458.6,-54.1],[465.8,-57.0],[472.9,-57.6],[480,-60],[487.2,-62.4],[494.3,-64.1],[500,-64.1]];
const s22PhaseIntrinsic = [[1,-1],[5,-6],[10,-15.7],[20,-28.7],[30,-38.2],[37.6,-44.5],[51.9,-48.1],[75.6,-49.0],[108.9,-49.0],[156.5,-49.0],[180.3,-50.5],[204,-52.3],[251.7,-55.8],[299.2,-58.8],[346.8,-63.0],[394.4,-66.5],[442,-70.7],[489.5,-75.4],[500,-75.4]];

// ---------- styling ----------
const cyanBright = "#22eef2";
const cyanPale = "#80fbfb";
const meanderSimColor = "#f5136f";
const straightMeasColor = "#0c0c94";
const meanderMeasColor = "#ff80ff";
const intrinsicColor = "#808080";

// panel layout: plot box [left, top, right, bottom]
const panels = [
  { id: "p1", box: [90.7, 15.7, 446.7, 303.3], yDomain: [-12, 0], ticks: s11MagTicks, minorStep: 2, labelX: 34,
    label: ["|S", "11", "| (dB)"], cyan: cyanBright, legendRows: [27.5, 51, 75.5],
    series: [s11MagStraightSim, s11MagMeanderSim, s11MagStraightMeas, s11MagMeanderMeas, s11MagIntrinsic] },
  { id: "p2", box: [566, 15.7, 922.3, 303.3], yDomain: [-32, -8], ticks: s12MagTicks, minorStep: 4, labelX: 508,
    label: ["|S", "12", "| (dB)"], cyan: cyanBright, legendRows: [210, 233, 258],
    series: [s12MagStraightSim, s12MagMeanderSim, s12MagStraightMeas, s12MagMeanderMeas, s12MagIntrinsic] },
  { id: "p3", box: [98.3, 440, 448.3, 721.7], yDomain: [-200, 0], ticks: s11PhaseTicks, minorStep: 25, labelX: 34,
    label: ["arg(S", "11", ") (deg)"], cyan: cyanPale, legendRows: [27.5, 50.5, 75],
    series: [s11PhaseStraightSim, s11PhaseMeanderSim, s11PhaseStraightMeas, s11PhaseMeanderMeas, s11PhaseIntrinsic] },
  { id: "p4", box: [573, 440, 924, 721.7], yDomain: [-20, 100], ticks: s12PhaseTicks, minorStep: 10, labelX: 508,
    label: ["arg(S", "12", ") (deg)"], cyan: cyanPale, legendRows: [27.5, 50.5, 75],
    series: [s12PhaseStraightSim, s12PhaseMeanderSim, s12PhaseStraightMeas, s12PhaseMeanderMeas, s12PhaseIntrinsic] },
  { id: "p5", box: [91, 859, 447.7, 1145], yDomain: [-10, 30], ticks: s21MagTicks, minorStep: 5, labelX: 34,
    label: ["|S", "21", "| (dB)"], cyan: cyanBright, legendRows: [27, 50, 75],
    series: [s21MagStraightSim, s21MagMeanderSim, s21MagStraightMeas, s21MagMeanderMeas, s21MagIntrinsic] },
  { id: "p6", box: [566, 857.7, 923, 1144.3], yDomain: [-12, 0], ticks: s22MagTicks, minorStep: 2, labelX: 508,
    label: ["|S", "22", "| (dB)"], cyan: cyanBright, legendRows: [27, 50, 75],
    series: [s22MagStraightSim, s22MagMeanderSim, s22MagStraightMeas, s22MagMeanderMeas, s22MagIntrinsic] },
  { id: "p7", box: [99, 1281.7, 448.3, 1563], yDomain: [0, 200], ticks: s21PhaseTicks, minorStep: 25, labelX: 34,
    label: ["arg(S", "21", ") (deg)"], cyan: cyanPale, legendRows: [27.5, 50.5, 75],
    series: [s21PhaseStraightSim, s21PhaseMeanderSim, s21PhaseStraightMeas, s21PhaseMeanderMeas, s21PhaseIntrinsic] },
  { id: "p8", box: [573.7, 1281.7, 924, 1562.3], yDomain: [-100, 0], ticks: s22PhaseTicks, minorStep: 12.5, labelX: 508,
    label: ["arg(S", "22", ") (deg)"], cyan: cyanPale, legendRows: [27.5, 50.5, 75],
    series: [s22PhaseStraightSim, s22PhaseMeanderSim, s22PhaseStraightMeas, s22PhaseMeanderMeas, s22PhaseIntrinsic] }
];

const svg = d3.select("#chart");
const defs = svg.append("defs");

function seriesStyles(cyan) {
  return [
    { color: cyan, width: 3.2, curve: d3.curveMonotoneX },
    { color: meanderSimColor, width: 3.2, curve: d3.curveMonotoneX },
    { color: straightMeasColor, width: 1.9, curve: d3.curveLinear },
    { color: meanderMeasColor, width: 1.9, curve: d3.curveLinear },
    { color: intrinsicColor, width: 3, curve: d3.curveMonotoneX, dash: "8,5" }
  ];
}
// draw order: sims, intrinsic, then measurements
const drawOrder = [0, 1, 4, 2, 3];
// legend layout: [sample start, sample end, text x, row]
const legendSlots = [[22, 65, 70, 0], [183, 226, 231, 0], [22, 65, 70, 1], [183, 226, 231, 1], [113, 154, 160, 2]];

panels.forEach(p => {
  const [x0, y0, x1, y1] = p.box;
  const x = d3.scaleLinear().domain([0, 500]).range([x0, x1]);
  const y = d3.scaleLinear().domain(p.yDomain).range([y1, y0]);
  const styles = seriesStyles(p.cyan);
  const g = svg.append("g");

  defs.append("clipPath").attr("id", "clip-" + p.id)
    .append("rect").attr("x", x0).attr("y", y0).attr("width", x1 - x0).attr("height", y1 - y0);

  // curves
  const plot = g.append("g").attr("clip-path", `url(#clip-${p.id})`);
  drawOrder.forEach(i => {
    const s = styles[i];
    const line = d3.line().defined(d => d !== null).x(d => x(d[0])).y(d => y(d[1])).curve(s.curve);
    plot.append("path")
      .attr("d", line(p.series[i]))
      .attr("fill", "none")
      .attr("stroke", s.color)
      .attr("stroke-width", s.width)
      .attr("stroke-linejoin", "round")
      .attr("stroke-dasharray", s.dash || null);
  });

  // axes (ticks point inward on all four sides)
  const [ymin, ymax] = p.yDomain;
  const yMinor = d3.range(ymin, ymax + 1e-9, p.minorStep).filter(v => !p.ticks.includes(v));
  const xMinor = d3.range(50, 500, 100);
  const axisStyle = sel => {
    sel.select(".domain").remove();
    sel.selectAll(".tick line").attr("stroke", "#000").attr("stroke-width", 2);
    sel.selectAll("text").attr("fill", "#000").attr("font-size", 24)
      .attr("font-family", '"Liberation Sans", Arial, sans-serif');
  };
  g.append("g").attr("transform", `translate(0,${y1})`)
    .call(d3.axisBottom(x).tickValues(freqTicks).tickSize(-7).tickPadding(9).tickFormat(d3.format("d")))
    .call(axisStyle);
  g.append("g").attr("transform", `translate(0,${y1})`)
    .call(d3.axisBottom(x).tickValues(xMinor).tickSize(-4).tickFormat(""))
    .call(axisStyle);
  g.append("g").attr("transform", `translate(0,${y0})`)
    .call(d3.axisTop(x).tickValues(freqTicks).tickSize(-7).tickFormat(""))
    .call(axisStyle);
  g.append("g").attr("transform", `translate(0,${y0})`)
    .call(d3.axisTop(x).tickValues(xMinor).tickSize(-4).tickFormat(""))
    .call(axisStyle);
  g.append("g").attr("transform", `translate(${x0},0)`)
    .call(d3.axisLeft(y).tickValues(p.ticks).tickSize(-7).tickPadding(5).tickFormat(d3.format("d")))
    .call(axisStyle);
  g.append("g").attr("transform", `translate(${x0},0)`)
    .call(d3.axisLeft(y).tickValues(yMinor).tickSize(-4).tickFormat(""))
    .call(axisStyle);
  g.append("g").attr("transform", `translate(${x1},0)`)
    .call(d3.axisRight(y).tickValues(p.ticks).tickSize(-7).tickFormat(""))
    .call(axisStyle);
  g.append("g").attr("transform", `translate(${x1},0)`)
    .call(d3.axisRight(y).tickValues(yMinor).tickSize(-4).tickFormat(""))
    .call(axisStyle);
  // minus signs drawn as plain hyphens
  g.selectAll(".tick text").text(function () { return this.textContent.replace("\u2212", "-"); });

  // frame
  g.append("rect").attr("x", x0).attr("y", y0).attr("width", x1 - x0).attr("height", y1 - y0)
    .attr("fill", "none").attr("stroke", "#000").attr("stroke-width", 2.6);

  // axis titles
  g.append("text")
    .attr("x", (x0 + x1) / 2).attr("y", y1 + 60)
    .attr("text-anchor", "middle").attr("font-size", 25).attr("fill", "#000")
    .text("Frequency (GHz)");
  const yl = g.append("text")
    .attr("transform", `translate(${p.labelX},${(y0 + y1) / 2}) rotate(-90)`)
    .attr("text-anchor", "middle").attr("font-size", 26).attr("fill", "#000");
  yl.append("tspan").text(p.label[0]);
  yl.append("tspan").attr("font-size", 16).attr("dy", 7).text(p.label[1]);
  yl.append("tspan").attr("dy", -7).text(p.label[2]);

  // legend
  const lg = g.append("g");
  legendSlots.forEach((slot, i) => {
    const s = styles[i];
    const ly = y0 + p.legendRows[slot[3]];
    lg.append("line")
      .attr("x1", x0 + slot[0]).attr("x2", x0 + slot[1]).attr("y1", ly).attr("y2", ly)
      .attr("stroke", s.color).attr("stroke-width", i === 2 || i === 3 ? 2.2 : 3.2)
      .attr("stroke-dasharray", s.dash || null);
    lg.append("text")
      .attr("x", x0 + slot[2]).attr("y", ly + 5.5)
      .attr("font-size", 15.5).attr("fill", "#000")
      .text(legendLabels[i]);
  });
});
</script>
</body>
</html>
